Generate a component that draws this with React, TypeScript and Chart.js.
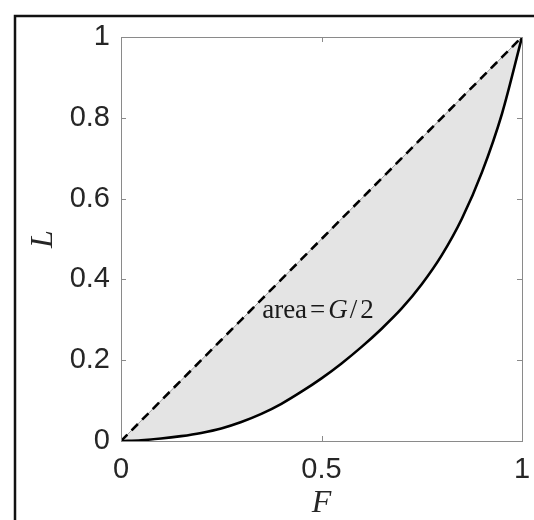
import React, { useEffect, useRef } from "react";
import { Chart, registerables } from "chart.js";

Chart.register(...registerables);

// Lorenz curve
const F_VALUES = [0, 0.05, 0.1, 0.15, 0.2, 0.25, 0.3, 0.35, 0.4, 0.45, 0.5, 0.55, 0.6, 0.65, 0.7, 0.75, 0.8, 0.85, 0.9, 0.95, 1];
const L_VALUES = [0, 0.002, 0.006, 0.012, 0.02, 0.031, 0.047, 0.067, 0.092, 0.122, 0.155, 0.192, 0.233, 0.278, 0.328, 0.388, 0.46, 0.55, 0.665, 0.81, 1];
// line of equality
const EQUALITY_VALUES = F_VALUES.slice();

const X_TICKS = [0, 0.5, 1];
const Y_TICKS = [0, 0.2, 0.4, 0.6, 0.8, 1];
const X_TITLE = "F";
const Y_TITLE = "L";
const ANNOTATION_POS = { f: 0.352, l: 0.304 };
const ANNOTATION_PARTS = [
  { t: "area", italic: false, gap: 3 },
  { t: "=", italic: false, gap: 3 },
  { t: "G", italic: true, gap: 2 },
  { t: "/", italic: false, gap: 3 },
  { t: "2", italic: false, gap: 0 },
];

const TICK_COLOR = "#262626";
const BOX_COLOR = "#8a8a8a";

const decorPlugin = {
  id: "decor",
  afterDraw(chart: any) {
    const { ctx, chartArea } = chart;
    const xs = chart.scales.x;
    const ys = chart.scales.y;
    const { left, right, top, bottom } = chartArea;
    ctx.save();
    // axes box
    ctx.strokeStyle = BOX_COLOR;
    ctx.lineWidth = 1;
    ctx.strokeRect(Math.round(left) + 0.5, Math.round(top) + 0.5, Math.round(right - left), Math.round(bottom - top));
    // inward ticks on all sides
    const tl = 5;
    ctx.beginPath();
    X_TICKS.forEach((v) => {
      const px = Math.round(xs.getPixelForValue(v)) + 0.5;
      ctx.moveTo(px, bottom);
      ctx.lineTo(px, bottom - tl);
      ctx.moveTo(px, top);
      ctx.lineTo(px, top + tl);
    });
    Y_TICKS.forEach((v) => {
      const py = Math.round(ys.getPixelForValue(v)) + 0.5;
      ctx.moveTo(left, py);
      ctx.lineTo(left + tl, py);
      ctx.moveTo(right, py);
      ctx.lineTo(right - tl, py);
    });
    ctx.stroke();

    // axis titles
    ctx.fillStyle = TICK_COLOR;
    ctx.font = "italic 32px 'Liberation Serif'";
    ctx.textAlign = "center";
    ctx.textBaseline = "alphabetic";
    ctx.fillText(X_TITLE, (left + right) / 2, 512);
    ctx.save();
    ctx.translate(52, (top + bottom) / 2);
    ctx.rotate(-Math.PI / 2);
    ctx.fillText(Y_TITLE, 0, 0);
    ctx.restore();

    // annotation
    let ax = xs.getPixelForValue(ANNOTATION_POS.f);
    const ay = ys.getPixelForValue(ANNOTATION_POS.l);
    ctx.textAlign = "left";
    ctx.fillStyle = "#1a1a1a";
    ANNOTATION_PARTS.forEach((p) => {
      ctx.font = (p.italic ? "italic " : "") + "27px 'Liberation Serif'";
      ctx.fillText(p.t, ax, ay);
      ax += ctx.measureText(p.t).width + p.gap;
    });

    // outer frame
    ctx.strokeStyle = "#111";
    ctx.lineWidth = 2.5;
    ctx.beginPath();
    ctx.moveTo(15, 520);
    ctx.lineTo(15, 16);
    ctx.lineTo(534, 16);
    ctx.stroke();
    ctx.restore();
  },
};

export default function App() {
  const ref = useRef<HTMLCanvasElement | null>(null);
  useEffect(() => {
    if (!ref.current) return;
    const pts = (ys: number[]) => F_VALUES.map((f, i) => ({ x: f, y: ys[i] }));
    const chart = new Chart(ref.current, {
      type: "line",
      data: {
        datasets: [
          {
            label: "Lorenz",
            data: pts(L_VALUES),
            borderColor: "#000",
            borderWidth: 2.6,
            pointRadius: 0,
            cubicInterpolationMode: "monotone",
            fill: false,
            order: 1,
          },
          {
            label: "fill",
            data: pts(EQUALITY_VALUES),
            borderColor: "#9a9a9a",
            borderWidth: 1,
            pointRadius: 0,
            fill: { target: 0 },
            backgroundColor: "#e4e4e4",
            order: 2,
          },
          {
            label: "equality",
            data: pts(EQUALITY_VALUES),
            borderColor: "#000",
            borderWidth: 2.6,
            borderDash: [9, 6],
            pointRadius: 0,
            fill: false,
            order: 0,
          },
        ],
      } as any,
      options: {
        animation: false,
        responsive: false,
        devicePixelRatio: 1,
        layout: { padding: { left: 0, right: 12, top: 37, bottom: 0 } },
        plugins: { legend: { display: false }, tooltip: { enabled: false } },
        scales: {
          x: {
            type: "linear",
            min: 0,
            max: 1,
            afterBuildTicks: (s: any) => {
              s.ticks = X_TICKS.map((v) => ({ value: v }));
            },
            afterFit: (s: any) => {
              s.height = 79;
              s.paddingLeft = 0;
              s.paddingRight = 0;
            },
            grid: { display: false, drawTicks: false },
            border: { display: false },
            ticks: {
              autoSkip: false,
              maxRotation: 0,
              padding: 12,
              color: TICK_COLOR,
              font: { family: "'Liberation Sans'", size: 29 },
              callback: (v: any) => String(v),
            },
          },
          y: {
            type: "linear",
            min: 0,
            max: 1,
            afterBuildTicks: (s: any) => {
              s.ticks = Y_TICKS.map((v) => ({ value: v }));
            },
            afterFit: (s: any) => {
              s.width = 121;
              s.paddingTop = 0;
              s.paddingBottom = 0;
            },
            grid: { display: false, drawTicks: false },
            border: { display: false },
            ticks: {
              autoSkip: false,
              padding: 11,
              color: TICK_COLOR,
              font: { family: "'Liberation Sans'", size: 29 },
              callback: (v: any) => String(v),
            },
          },
        },
      } as any,
      plugins: [decorPlugin],
    });
    return () => chart.destroy();
  }, []);
  return (
    <div style={{ position: "absolute", left: 0, top: 0, width: 534, height: 520, background: "#fff" }}>
      <canvas ref={ref} width={534} height={520} style={{ display: "block" }} />
    </div>
  );
}
